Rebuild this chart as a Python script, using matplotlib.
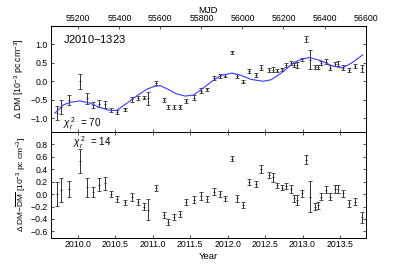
import numpy as np
import matplotlib
matplotlib.use("Agg")
import matplotlib.pyplot as plt

plt.rcParams['font.family'] = ['Liberation Sans', 'DejaVu Sans']
plt.rcParams['mathtext.fontset'] = 'custom'
plt.rcParams['mathtext.rm'] = 'Liberation Sans'
plt.rcParams['mathtext.it'] = 'Liberation Sans:italic'

# epochs (year)
year = [2009.72, 2009.78, 2009.88, 2010.03, 2010.12, 2010.21, 2010.29, 2010.37,
        2010.44, 2010.52, 2010.63, 2010.72, 2010.81, 2010.88, 2010.94, 2011.04,
        2011.15, 2011.21, 2011.29, 2011.37, 2011.45, 2011.55, 2011.64, 2011.72,
        2011.82, 2011.90, 2011.97, 2012.06, 2012.13, 2012.20, 2012.29, 2012.38,
        2012.45, 2012.55, 2012.60, 2012.66, 2012.72, 2012.78, 2012.84, 2012.88,
        2012.93, 2012.99, 2013.04, 2013.10, 2013.16, 2013.20, 2013.25, 2013.31,
        2013.37, 2013.43, 2013.48, 2013.54, 2013.62, 2013.70, 2013.80]

# upper panel: delta DM
dm = [-0.86, -0.69, -0.50, 0.00, -0.46, -0.64, -0.60, -0.62,
      -0.78, -0.82, -0.75, -0.49, -0.46, -0.44, -0.46, -0.05,
      -0.50, -0.69, -0.69, -0.69, -0.53, -0.44, -0.25, -0.22,
      0.08, 0.14, 0.15, 0.78, 0.14, -0.01, 0.28, 0.17,
      0.37, 0.31, 0.31, 0.28, 0.32, 0.43, 0.49, 0.43,
      0.43, 0.59, 1.14, 0.58, 0.39, 0.39, 0.49, 0.53,
      0.37, 0.47, 0.47, 0.37, 0.31, 0.41, 0.35]

# lower panel: residuals
res = [0.00, 0.07, 0.08, 0.53, 0.11, 0.04, 0.15, 0.17,
       0.00, -0.08, -0.13, -0.05, -0.13, -0.20, -0.25, 0.10,
       -0.34, -0.45, -0.37, -0.32, -0.13, -0.09, -0.03, -0.08,
       0.04, 0.00, -0.07, 0.57, -0.07, -0.18, 0.19, 0.16,
       0.40, 0.30, 0.27, 0.14, 0.10, 0.13, 0.08, -0.07,
       -0.10, 0.01, 0.55, -0.04, -0.20, -0.18, -0.04, 0.07,
       -0.04, 0.08, 0.08, 0.01, -0.15, -0.12, -0.37]

err = [0.19, 0.19, 0.13, 0.20, 0.15, 0.08, 0.10, 0.10,
       0.05, 0.05, 0.04, 0.06, 0.05, 0.05, 0.17, 0.05,
       0.05, 0.05, 0.05, 0.05, 0.05, 0.06, 0.07, 0.05,
       0.05, 0.05, 0.04, 0.04, 0.05, 0.05, 0.05, 0.05,
       0.06, 0.05, 0.07, 0.04, 0.04, 0.05, 0.06, 0.05,
       0.08, 0.05, 0.07, 0.25, 0.06, 0.06, 0.06, 0.06,
       0.06, 0.06, 0.07, 0.06, 0.05, 0.05, 0.09]

# model curve (blue)
model_year = [2009.695, 2009.807, 2009.897, 2010.031, 2010.165, 2010.299, 2010.434,
              2010.523, 2010.658, 2010.792, 2010.926, 2011.038, 2011.105, 2011.208,
              2011.319, 2011.436, 2011.544, 2011.638, 2011.772, 2011.906, 2012.058,
              2012.179, 2012.313, 2012.474, 2012.581, 2012.715, 2012.830, 2012.890,
              2012.985, 2013.091, 2013.252, 2013.400, 2013.534, 2013.655, 2013.803]
model_dm = [-0.86, -0.64, -0.57, -0.53, -0.59, -0.71, -0.79,
            -0.78, -0.59, -0.39, -0.21, -0.13, -0.12, -0.22,
            -0.34, -0.40, -0.37, -0.24, -0.03, 0.15, 0.22,
            0.16, 0.05, 0.00, 0.04, 0.22, 0.41, 0.51,
            0.59, 0.64, 0.55, 0.41, 0.36, 0.49, 0.71]

mjd_ticks = [55200, 55400, 55600, 55800, 56000, 56200, 56400, 56600]


def yr2mjd(y):
    return 51544.5 + (np.asarray(y) - 2000.0) * 365.25


def mjd2yr(m):
    return 2000.0 + (np.asarray(m) - 51544.5) / 365.25


fs = 6.3
fig = plt.figure(figsize=(4.07, 2.65), dpi=100)
ax1 = fig.add_axes([0.1246, 0.503, 0.7739, 0.399])
ax2 = fig.add_axes([0.1246, 0.103, 0.7739, 0.400], sharex=ax1)

eb = dict(fmt='+', color='#222222', ecolor='#333333', ms=2.0, mew=0.6,
          elinewidth=0.7, capsize=1.3, capthick=0.6)
ax1.errorbar(year, dm, yerr=err, **eb)
ax1.plot(model_year, model_dm, color='#3a3aff', lw=0.8, zorder=3)
ax2.errorbar(year, res, yerr=err, **eb)

ax1.set_xlim(2009.64, 2013.843)
ax1.set_ylim(-1.36, 1.49)
ax2.set_ylim(-0.7, 1.0)
ax1.set_yticks([-1.0, -0.5, 0.0, 0.5, 1.0])
ax2.set_yticks([-0.6, -0.4, -0.2, 0.0, 0.2, 0.4, 0.6, 0.8])
ax2.set_xticks([2010.0, 2010.5, 2011.0, 2011.5, 2012.0, 2012.5, 2013.0, 2013.5])

for a in (ax1, ax2):
    a.tick_params(direction='in', length=2.5, width=0.5, labelsize=fs, pad=2,
                  right=True, top=True)
    for s in a.spines.values():
        s.set_linewidth(0.7)
ax1.tick_params(labelbottom=False)

top = ax1.secondary_xaxis('top', functions=(yr2mjd, mjd2yr))
top.set_xticks(mjd_ticks)
top.tick_params(direction='in', length=2.5, width=0.5, labelsize=fs, pad=2)
top.set_xlabel('MJD', fontsize=fs + 0.5, labelpad=1)
ax1.tick_params(top=False)

ax2.set_xlabel('Year', fontsize=fs + 0.5, labelpad=2)
ax1.set_ylabel(r'$\Delta$ DM [10$^{-3}$ pc cm$^{-3}$]', fontsize=fs, labelpad=3)
ax2.set_ylabel(r'$\Delta$ DM$-\overline{\rm DM}$ [10$^{-3}$ pc cm$^{-3}$]',
               fontsize=fs - 0.3, labelpad=2)

ax1.text(0.04, 0.88, 'J2010$-$1323', transform=ax1.transAxes, fontsize=8,
         va='center', ha='left')
ax1.text(0.04, 0.08, r'$\chi_r^{\,2}$  = 70', transform=ax1.transAxes,
         fontsize=fs + 0.8, va='center', ha='left')
ax2.text(0.07, 0.9, r'$\chi_r^{\,2}$  = 14', transform=ax2.transAxes,
         fontsize=fs + 0.8, va='center', ha='left')

fig.savefig('out.png', dpi=100)
